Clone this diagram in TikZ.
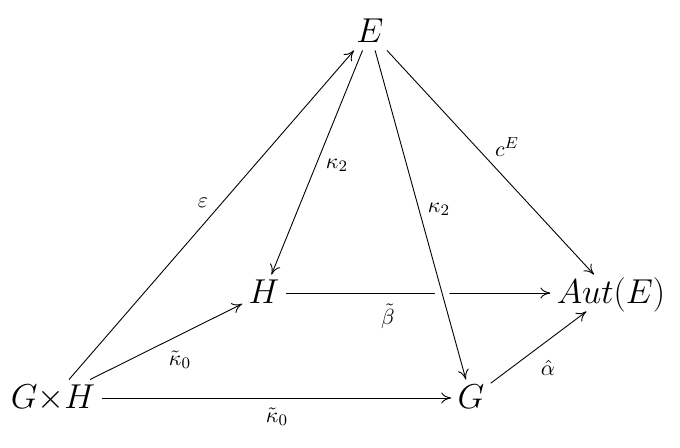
\documentclass[tikz,border=0pt]{standalone}
\usetikzlibrary{arrows.meta}
\begin{document}
\begin{tikzpicture}[x=0.5pt,y=-0.5pt,
  obj/.style={inner xsep=3pt, inner ysep=1.5pt, text height=13pt, text depth=2pt, anchor=base,
    font=\fontsize{16}{19}\selectfont},
  lbl/.style={inner sep=0pt, font=\fontsize{11}{13}\selectfont},
  arr/.style={line width=0.45pt, -{To[length=5pt,width=5.5pt]}}]
\useasboundingbox (0,0) rectangle (680,448);
\node[obj] (E) at (370,43) {$E$};
\node[obj] (H) at (264,304) {$H$};
\node[obj] (A) at (611,304) {$Aut(E)$};
\node[obj] (GH) at (53,409) {$G{\times}H$};
\node[obj] (G) at (471,409) {$G$};

\draw[arr] (GH) -- (E) node[lbl] at (203,203) {$\varepsilon$};
\draw[arr] (E) -- (H) node[lbl] at (337,165) {$\kappa_2$};
\draw[arr] (E) -- (A) node[lbl] at (507,147) {$c^E$};
\draw[arr] (H) -- (A) node[lbl] at (388,316) {$\tilde\beta$};
\draw[arr, preaction={draw=white, line width=7pt, -}] (E) -- (G) node[lbl] at (439,209) {$\kappa_2$};
\draw[arr] (GH) -- (H) node[lbl] at (180,360) {$\tilde\kappa_0$};
\draw[arr] (GH) -- (G) node[lbl] at (277,417) {$\tilde\kappa_0$};
\draw[arr] (G) -- (A) node[lbl] at (548,368) {$\hat\alpha$};
\end{tikzpicture}
\end{document}
